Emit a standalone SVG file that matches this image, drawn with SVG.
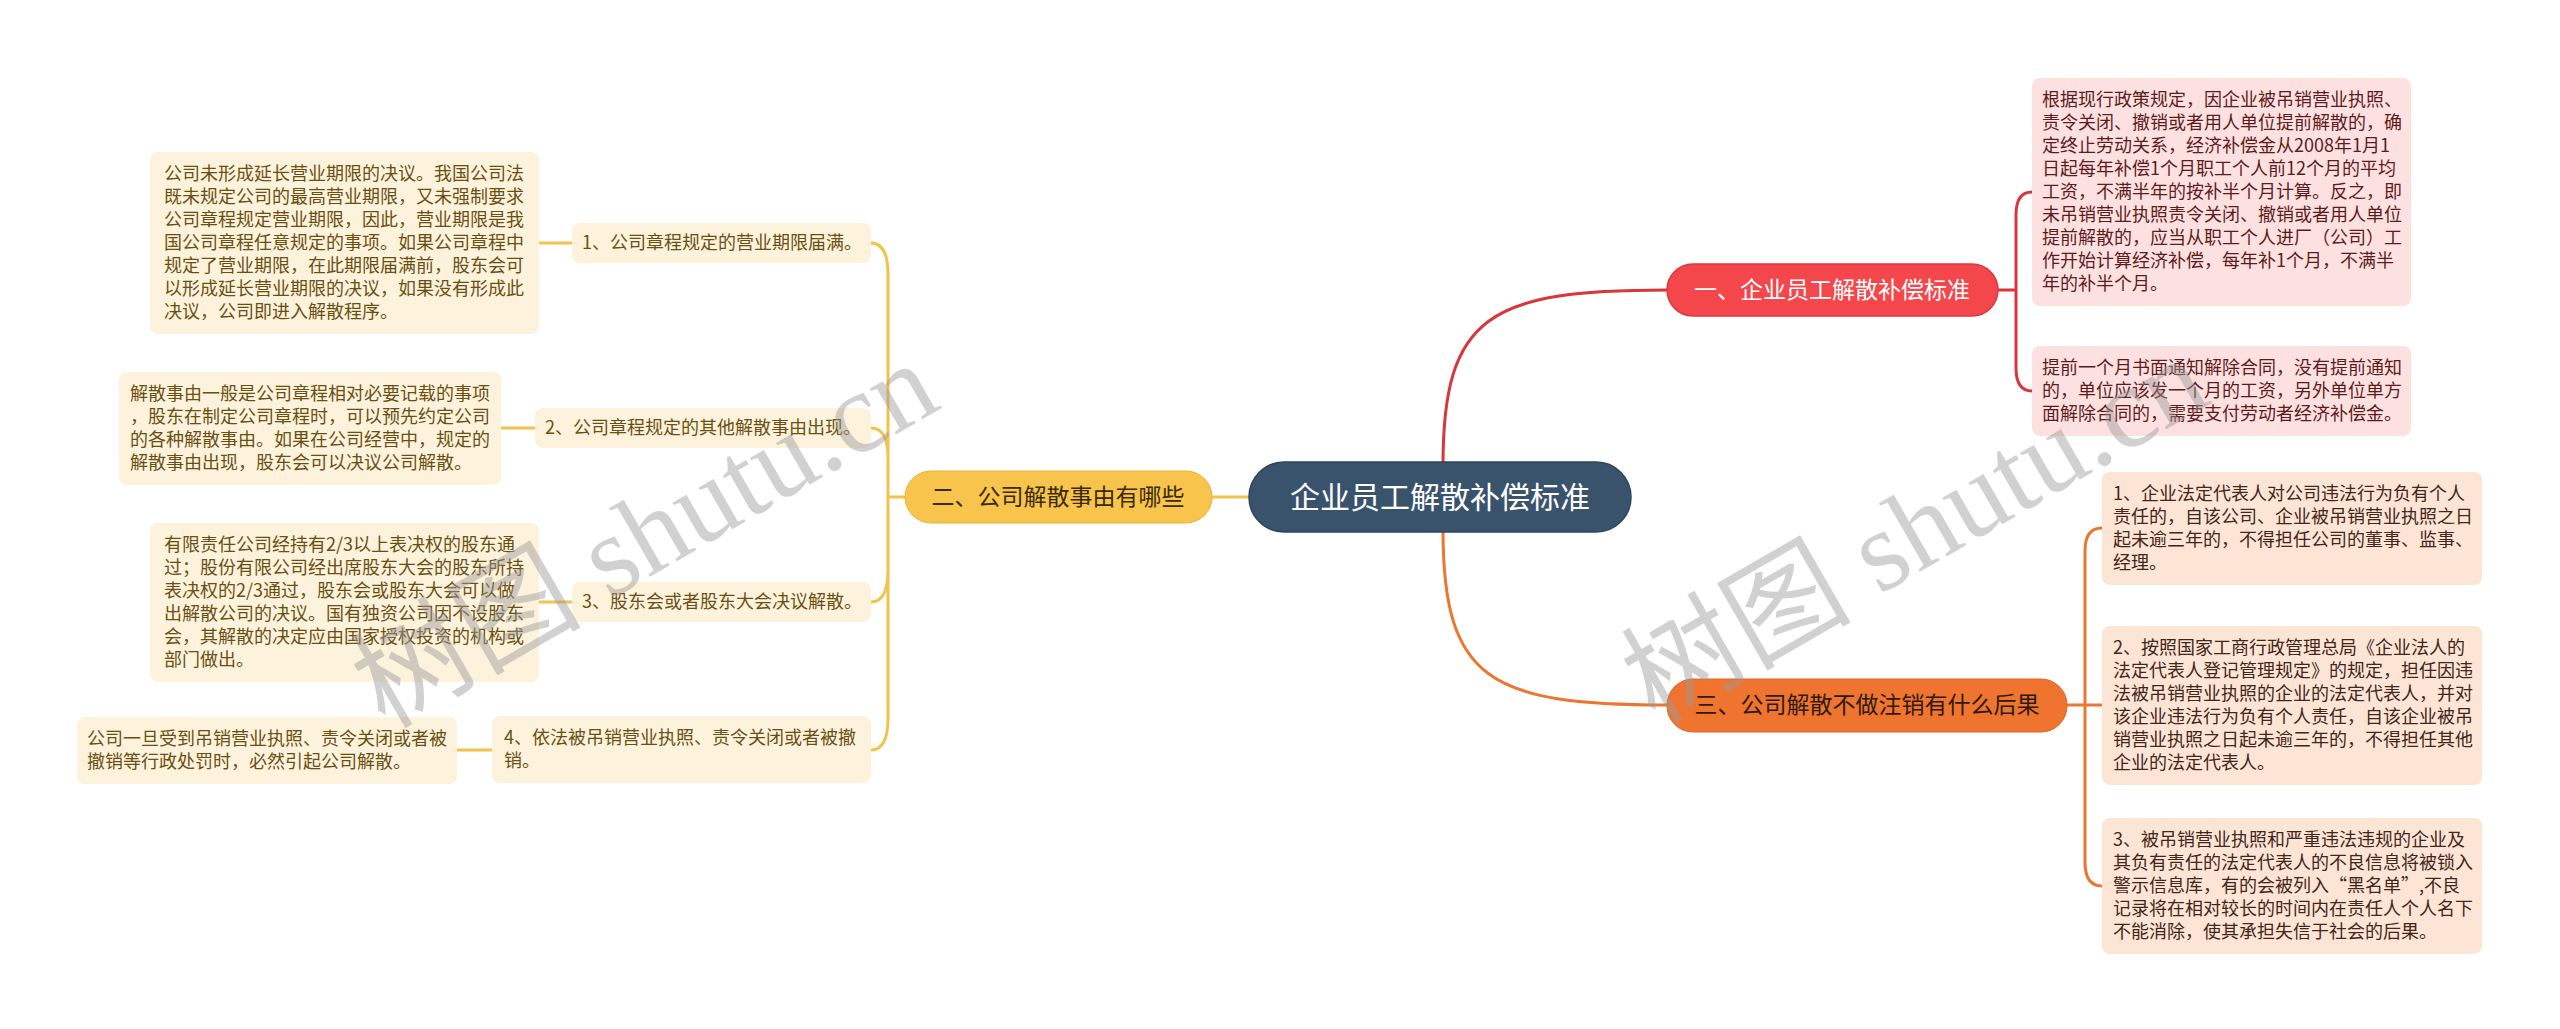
<svg xmlns="http://www.w3.org/2000/svg" width="2560" height="1029" viewBox="0 0 2560 1029">
<style>
text{font-family:"Noto Sans CJK SC","Noto Sans",sans-serif;}
.lt{font-size:18px;}
.y rect{fill:#fdf3dc;}
.y text{fill:#6b4f12;}
.r rect{fill:#fde1e1;}
.r text{fill:#5e1b1b;}
.o rect{fill:#fde5d6;}
.o text{fill:#43261a;}
.cy{fill:none;stroke:#f2c24d;stroke-width:3;}
.cr{fill:none;stroke:#d9363b;stroke-width:3;}
.co{fill:none;stroke:#ec7530;stroke-width:3;}
.wm{font-family:"Liberation Serif","Noto Sans CJK SC",serif;font-size:115px;fill:#9a9a9a;opacity:0.45;}
</style>
<rect width="2560" height="1029" fill="#ffffff"/>
<g id="connectors">
<path class="cr" d="M1443,465 C1443,315 1490,290 1667,290"/>
<path class="co" d="M1443,530 C1443,680 1490,705 1667,705"/>
<path class="cy" d="M1249,497 H1212"/>
<path class="cr" d="M1998,290 H2016 M2016,290 V215 Q2016,192 2032,192 M2016,290 V368 Q2016,391 2032,391"/>
<path class="co" d="M2066,705 H2085 M2085,705 V551 Q2085,528 2102,528 M2085,705 H2102 M2085,705 V862 Q2085,886 2102,886"/>
<path class="cy" d="M905,497 H888 M888,497 V275 Q888,243 871,243 M888,497 V458 Q888,428 871,428 M888,497 V570 Q888,602 871,602 M888,497 V718 Q888,750 871,750"/>
<path class="cy" d="M539,243 H572 M501,428 H535 M539,602 H572 M457,750 H492"/>
</g>
<g id="center">
<rect x="1249" y="462" width="382" height="70" rx="35" fill="#3a536d" stroke="#2e445c" stroke-width="1.5"/>
<text x="1440" y="508" font-size="30" fill="#ffffff" text-anchor="middle">企业员工解散补偿标准</text>
</g>
<g id="branch1">
<rect x="1667" y="264" width="331" height="52" rx="26" fill="#f4474c" stroke="#d93a40" stroke-width="1.5"/>
<text x="1832" y="298" font-size="23" fill="#ffffff" text-anchor="middle">一、企业员工解散补偿标准</text>
</g>
<g id="branch2">
<rect x="905" y="471" width="307" height="52" rx="26" fill="#f8c44b" stroke="#e8b33c" stroke-width="1"/>
<text x="1058" y="505" font-size="23" fill="#3a2a05" text-anchor="middle">二、公司解散事由有哪些</text>
</g>
<g id="branch3">
<rect x="1667" y="679" width="400" height="53" rx="26" fill="#ef7430" stroke="#de6424" stroke-width="1"/>
<text x="1867" y="713" font-size="23" fill="#2e1a0c" text-anchor="middle">三、公司解散不做注销有什么后果</text>
</g>
<g id="r1" class="r">
<rect x="2032" y="78" width="379" height="228" rx="8"/>
<text class="lt"><tspan x="2042" y="106">根据现行政策规定，因企业被吊销营业执照、</tspan><tspan x="2042" y="129">责令关闭、撤销或者用人单位提前解散的，确</tspan><tspan x="2042" y="152">定终止劳动关系，经济补偿金从2008年1月1</tspan><tspan x="2042" y="175">日起每年补偿1个月职工个人前12个月的平均</tspan><tspan x="2042" y="198">工资，不满半年的按补半个月计算。反之，即</tspan><tspan x="2042" y="221">未吊销营业执照责令关闭、撤销或者用人单位</tspan><tspan x="2042" y="244">提前解散的，应当从职工个人进厂（公司）工</tspan><tspan x="2042" y="267">作开始计算经济补偿，每年补1个月，不满半</tspan><tspan x="2042" y="290">年的补半个月。</tspan></text>
</g>
<g id="r2" class="r">
<rect x="2032" y="346" width="379" height="90" rx="8"/>
<text class="lt"><tspan x="2042" y="374">提前一个月书面通知解除合同，没有提前通知</tspan><tspan x="2042" y="397">的，单位应该发一个月的工资，另外单位单方</tspan><tspan x="2042" y="420">面解除合同的，需要支付劳动者经济补偿金。</tspan></text>
</g>
<g id="o1" class="o">
<rect x="2102" y="472" width="380" height="113" rx="8"/>
<text class="lt"><tspan x="2113" y="500">1、企业法定代表人对公司违法行为负有个人</tspan><tspan x="2113" y="523">责任的，自该公司、企业被吊销营业执照之日</tspan><tspan x="2113" y="546">起未逾三年的，不得担任公司的董事、监事、</tspan><tspan x="2113" y="569">经理。</tspan></text>
</g>
<g id="o2" class="o">
<rect x="2102" y="626" width="380" height="159" rx="8"/>
<text class="lt"><tspan x="2113" y="654">2、按照国家工商行政管理总局《企业法人的</tspan><tspan x="2113" y="677">法定代表人登记管理规定》的规定，担任因违</tspan><tspan x="2113" y="700">法被吊销营业执照的企业的法定代表人，并对</tspan><tspan x="2113" y="723">该企业违法行为负有个人责任，自该企业被吊</tspan><tspan x="2113" y="746">销营业执照之日起未逾三年的，不得担任其他</tspan><tspan x="2113" y="769">企业的法定代表人。</tspan></text>
</g>
<g id="o3" class="o">
<rect x="2102" y="818" width="380" height="136" rx="8"/>
<text class="lt"><tspan x="2113" y="846">3、被吊销营业执照和严重违法违规的企业及</tspan><tspan x="2113" y="869">其负有责任的法定代表人的不良信息将被锁入</tspan><tspan x="2113" y="892">警示信息库，有的会被列入“黑名单”,不良</tspan><tspan x="2113" y="915">记录将在相对较长的时间内在责任人个人名下</tspan><tspan x="2113" y="938">不能消除，使其承担失信于社会的后果。</tspan></text>
</g>
<g id="i1" class="y">
<rect x="572" y="223" width="299" height="40" rx="8"/>
<text class="lt" x="582" y="249">1、公司章程规定的营业期限届满。</text>
</g>
<g id="i2" class="y">
<rect x="535" y="408" width="336" height="40" rx="8"/>
<text class="lt" x="545" y="434">2、公司章程规定的其他解散事由出现。</text>
</g>
<g id="i3" class="y">
<rect x="572" y="582" width="299" height="40" rx="8"/>
<text class="lt" x="582" y="608">3、股东会或者股东大会决议解散。</text>
</g>
<g id="i4" class="y">
<rect x="492" y="716" width="379" height="67" rx="8"/>
<text class="lt"><tspan x="504" y="744">4、依法被吊销营业执照、责令关闭或者被撤</tspan><tspan x="504" y="767">销。</tspan></text>
</g>
<g id="d1" class="y">
<rect x="150" y="152" width="389" height="182" rx="8"/>
<text class="lt"><tspan x="164" y="180">公司未形成延长营业期限的决议。我国公司法</tspan><tspan x="164" y="203">既未规定公司的最高营业期限，又未强制要求</tspan><tspan x="164" y="226">公司章程规定营业期限，因此，营业期限是我</tspan><tspan x="164" y="249">国公司章程任意规定的事项。如果公司章程中</tspan><tspan x="164" y="272">规定了营业期限，在此期限届满前，股东会可</tspan><tspan x="164" y="295">以形成延长营业期限的决议，如果没有形成此</tspan><tspan x="164" y="318">决议，公司即进入解散程序。</tspan></text>
</g>
<g id="d2" class="y">
<rect x="119" y="372" width="382" height="113" rx="8"/>
<text class="lt"><tspan x="130" y="400">解散事由一般是公司章程相对必要记载的事项</tspan><tspan x="130" y="423">，股东在制定公司章程时，可以预先约定公司</tspan><tspan x="130" y="446">的各种解散事由。如果在公司经营中，规定的</tspan><tspan x="130" y="469">解散事由出现，股东会可以决议公司解散。</tspan></text>
</g>
<g id="d3" class="y">
<rect x="150" y="523" width="389" height="159" rx="8"/>
<text class="lt"><tspan x="164" y="551">有限责任公司经持有2/3以上表决权的股东通</tspan><tspan x="164" y="574">过；股份有限公司经出席股东大会的股东所持</tspan><tspan x="164" y="597">表决权的2/3通过，股东会或股东大会可以做</tspan><tspan x="164" y="620">出解散公司的决议。国有独资公司因不设股东</tspan><tspan x="164" y="643">会，其解散的决定应由国家授权投资的机构或</tspan><tspan x="164" y="666">部门做出。</tspan></text>
</g>
<g id="d4" class="y">
<rect x="77" y="717" width="380" height="67" rx="8"/>
<text class="lt"><tspan x="87" y="745">公司一旦受到吊销营业执照、责令关闭或者被</tspan><tspan x="87" y="768">撤销等行政处罚时，必然引起公司解散。</tspan></text>
</g>
<g id="watermark">
<text class="wm" x="0" y="0" text-anchor="middle" dominant-baseline="central" transform="translate(645,535) rotate(-30)">树图 shutu.cn</text>
<text class="wm" x="0" y="0" text-anchor="middle" dominant-baseline="central" transform="translate(1915,530) rotate(-30)">树图 shutu.cn</text>
</g>
</svg>
